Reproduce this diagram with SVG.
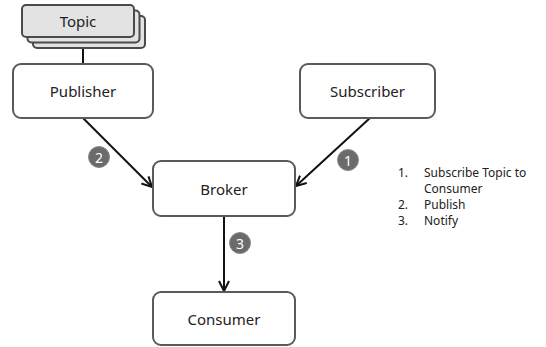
<svg xmlns="http://www.w3.org/2000/svg" width="546" height="347" viewBox="0 0 546 347">
  <style>
    .box { fill: #ffffff; stroke: #5a5a5a; stroke-width: 2; }
    .topic { fill: #e3e3e3; stroke: #4a4a4a; stroke-width: 2; }
    .label { font-family: "Noto Sans", "Open Sans", sans-serif; font-size: 15px; fill: #222222; text-anchor: middle; dominant-baseline: central; }
    .edge { stroke: #111111; stroke-width: 2; fill: none; }
    .badge circle { fill: #6b6b6b; stroke: #8a8a8a; stroke-width: 1; }
    .badge text { font-family: "Noto Sans", "Open Sans", sans-serif; font-size: 14px; fill: #ffffff; text-anchor: middle; dominant-baseline: central; }
    .legend { font-family: "Noto Sans", "Open Sans", sans-serif; font-size: 12px; fill: #222222; }
  </style>
  <defs>
    <marker id="arrow" viewBox="0 0 12 12" refX="11" refY="6" markerWidth="12" markerHeight="12" markerUnits="userSpaceOnUse" orient="auto">
      <polyline points="1,1 11,6 1,11" fill="none" stroke="#111111" stroke-width="2"/>
    </marker>
  </defs>

  <!-- connectors -->
  <g id="connectors">
    <line class="edge" x1="83" y1="37" x2="83" y2="64"/>
    <line class="edge" x1="83" y1="118" x2="152" y2="187" marker-end="url(#arrow)"/>
    <line class="edge" x1="370" y1="118" x2="296" y2="186" marker-end="url(#arrow)"/>
    <line class="edge" x1="224" y1="216" x2="224" y2="291" marker-end="url(#arrow)"/>
  </g>

  <!-- stacked topic card -->
  <g id="topic">
    <rect class="topic" x="33" y="16" width="112" height="32" rx="4"/>
    <rect class="topic" x="27.5" y="10.5" width="112" height="32" rx="4"/>
    <rect class="topic" x="22" y="5" width="112" height="32" rx="4"/>
    <text class="label" x="78" y="21">Topic</text>
  </g>

  <g id="publisher">
    <rect class="box" x="13" y="64" width="140" height="54" rx="8"/>
    <text class="label" x="83" y="91">Publisher</text>
  </g>

  <g id="subscriber">
    <rect class="box" x="300" y="64" width="135" height="54" rx="8"/>
    <text class="label" x="367.5" y="91">Subscriber</text>
  </g>

  <g id="broker">
    <rect class="box" x="153" y="161" width="142" height="55" rx="8"/>
    <text class="label" x="224" y="189">Broker</text>
  </g>

  <g id="consumer">
    <rect class="box" x="153" y="292" width="142" height="53" rx="8"/>
    <text class="label" x="224" y="319">Consumer</text>
  </g>

  <!-- step badges -->
  <g id="badge-2" class="badge">
    <circle cx="99" cy="157" r="10.5"/>
    <text x="99" y="157">2</text>
  </g>
  <g id="badge-1" class="badge">
    <circle cx="348" cy="160" r="10.5"/>
    <text x="348" y="160">1</text>
  </g>
  <g id="badge-3" class="badge">
    <circle cx="240" cy="243" r="10.5"/>
    <text x="240" y="243">3</text>
  </g>

  <!-- legend -->
  <g id="legend" class="legend">
    <text x="398" y="177">1.</text>
    <text x="424" y="177">Subscribe Topic to</text>
    <text x="424" y="193">Consumer</text>
    <text x="398" y="209">2.</text>
    <text x="424" y="209">Publish</text>
    <text x="398" y="225">3.</text>
    <text x="424" y="225">Notify</text>
  </g>
</svg>
